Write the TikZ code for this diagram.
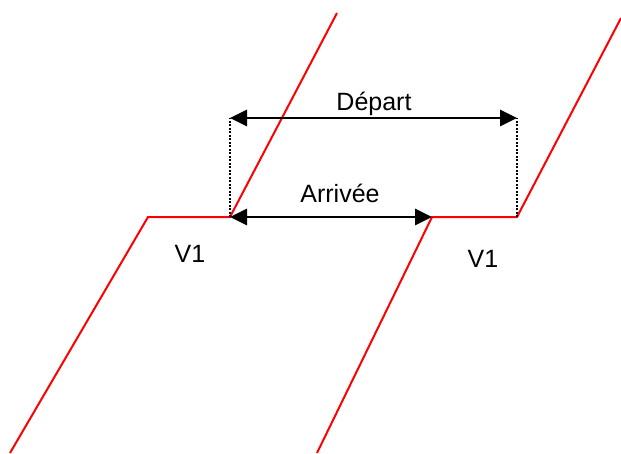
\documentclass[tikz,border=0pt]{standalone}
\usepackage{fontspec}
\setmainfont{Liberation Sans}
\usetikzlibrary{arrows.meta}
\begin{document}
\begin{tikzpicture}[x=1pt,y=-1pt,
  track/.style={draw=red,line width=2pt},
  span/.style={draw=black,line width=2.8pt,{Triangle[length=17pt,width=16pt]}-{Triangle[length=17pt,width=16pt]}},
  guide/.style={draw=black,line width=2.8pt,dash pattern=on 2pt off 1.5pt},
  lbl/.style={anchor=base,inner sep=0pt,font=\fontsize{25}{30}\selectfont}]
\useasboundingbox (0,0) rectangle (621,453);
% first path
\coordinate (a0) at (10,453);
\coordinate (a1) at (148,217);
\coordinate (a2) at (230,217);
\coordinate (a3) at (337,13);
% second path
\coordinate (b0) at (317,453);
\coordinate (b1) at (432,217);
\coordinate (b2) at (517,217);
\coordinate (b3) at (621,18);
% upper ends of the dotted guides
\coordinate (d1) at (230,118);
\coordinate (d2) at (517,118);

\draw[track] (a0) -- (a1) -- (a2) -- (a3);
\draw[track] (b0) -- (b1) -- (b2) -- (b3);

\draw[guide] (a2) -- (d1);
\draw[guide] (b2) -- (d2);

\draw[span] (d1) -- (d2);
\draw[span] (a2) -- (b1);

\node[lbl] (dep) at (374,110) {Départ};
\node[lbl] (arr) at (340,202) {Arrivée};
\node[lbl] (v1a) at (190,262) {V1};
\node[lbl] (v1b) at (483,267) {V1};
\end{tikzpicture}
\end{document}
